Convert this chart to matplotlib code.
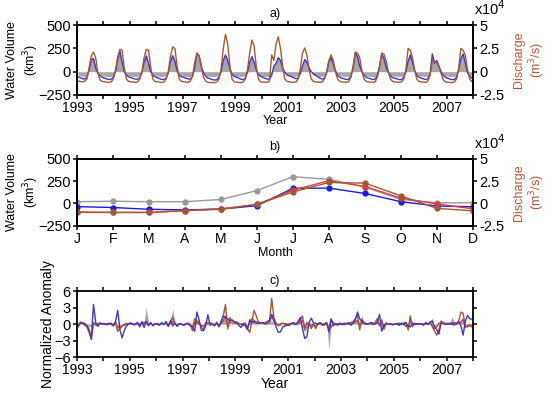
import numpy as np
import matplotlib
matplotlib.use("Agg")
import matplotlib.pyplot as plt

plt.rcParams['font.family'] = ['Liberation Sans', 'DejaVu Sans']

# ---- panel a: monthly series 1993-2007 (water volume km3, discharge /100 m3/s)
vol_blue_a = [
    -55, -65, -75, -80, -60, 20, 130, 140, 40, -20, -45, -60,
    -70, -78, -85, -80, -60, 0, 130, 220, 100, 0, -40, -55,
    -65, -72, -80, -82, -65, -10, 100, 165, 90, 0, -40, -55,
    -65, -75, -82, -85, -70, -10, 110, 170, 110, 10, -40, -55,
    -60, -70, -78, -80, -50, 40, 200, 170, 60, -10, -50, -70,
    -75, -85, -90, -85, -60, 0, 120, 180, 120, 30, -30, -50,
    -60, -70, -80, -85, -70, -10, 100, 160, 100, 20, -30, -50,
    -60, -72, -80, -80, -40, 60, 90, 150, 120, 40, -10, -35,
    -45, -55, -65, -75, -70, -20, 60, 130, 100, 40, 0, -25,
    -40, -55, -70, -80, -70, -10, 110, 150, 80, 10, -40, -60,
    -70, -78, -85, -80, -50, 40, 200, 160, 60, 0, -40, -60,
    -70, -78, -85, -80, -40, 60, 190, 140, 50, -10, -45, -65,
    -70, -78, -85, -85, -60, 0, 110, 180, 100, 10, -40, -60,
    -70, -78, -85, -75, -30, 190, 90, 120, 60, 0, -40, -60,
    -70, -80, -85, -85, -60, 20, 140, 190, 90, -10, -50, -70,
]
vol_grey_a = [
    -40, -45, -50, -50, -40, 40, 160, 150, 40, -20, -35, -45,
    -48, -50, -52, -50, -40, 10, 150, 230, 100, 0, -35, -45,
    -48, -50, -52, -50, -40, 0, 120, 200, 100, 0, -35, -45,
    -48, -50, -52, -50, -40, 0, 120, 190, 120, 10, -35, -45,
    -48, -50, -52, -50, -30, 60, 210, 170, 60, -10, -40, -50,
    -50, -52, -55, -50, -40, 10, 140, 190, 120, 30, -30, -45,
    -48, -50, -52, -50, -40, 0, 120, 170, 100, 20, -30, -45,
    -48, -50, -52, -50, -20, 70, 100, 160, 120, 40, -20, -40,
    -45, -48, -50, -50, -40, 0, 80, 140, 110, 40, -10, -35,
    -45, -48, -52, -50, -40, 0, 120, 170, 80, 10, -35, -45,
    -48, -50, -52, -50, -30, 60, 210, 170, 60, 0, -35, -45,
    -48, -50, -52, -50, -30, 70, 200, 150, 50, -10, -40, -48,
    -48, -50, -52, -50, -40, 10, 130, 200, 100, 10, -35, -45,
    -48, -50, -52, -50, -20, 200, 100, 130, 60, 0, -35, -45,
    -48, -50, -52, -50, -40, 30, 150, 200, 90, -10, -40, -50,
]
dis_brown_a = [
    -100, -105, -108, -105, -80, 40, 170, 210, 150, -20, -90, -105,
    -108, -112, -115, -110, -80, 20, 160, 240, 230, 40, -80, -105,
    -108, -112, -115, -110, -80, 0, 150, 240, 230, 50, -80, -105,
    -108, -112, -115, -110, -80, 0, 170, 265, 250, 60, -80, -105,
    -108, -112, -115, -100, -50, 100, 200, 170, 60, -60, -100, -115,
    -115, -118, -118, -110, -80, 30, 250, 400, 300, 60, -80, -110,
    -112, -115, -118, -110, -80, 20, 200, 340, 280, 50, -80, -110,
    -112, -115, -115, -100, 180, 120, 300, 375, 250, 50, -80, -105,
    -110, -112, -115, -110, -80, 30, 200, 255, 180, 20, -80, -105,
    -110, -112, -115, -110, -80, 0, 120, 180, 120, 0, -80, -105,
    -110, -112, -115, -105, -60, 60, 210, 200, 150, 10, -80, -105,
    -110, -112, -115, -110, -60, 40, 200, 190, 120, 0, -80, -105,
    -110, -112, -115, -110, -80, 20, 250, 230, 150, 10, -80, -105,
    -110, -112, -115, -100, -40, 120, 110, 100, 60, -20, -90, -110,
    -112, -115, -118, -110, -80, 40, 250, 230, 180, 20, -80, -105,
]

# ---- panel b: monthly climatology
months = ['J', 'F', 'M', 'A', 'M', 'J', 'J', 'A', 'S', 'O', 'N', 'D']
clim_grey = [20, 25, 20, 20, 45, 145, 300, 270, 185, 45, 8, 8]
clim_blue = [-35, -45, -65, -72, -62, -25, 170, 172, 112, 20, -28, -37]
clim_red = [-95, -100, -100, -80, -60, -10, 150, 255, 190, 60, -5, -60]
clim_brown = [-100, -100, -100, -80, -65, -10, 130, 235, 228, 85, -55, -82]

# ---- panel c: normalized anomalies
anom_blue = [
    -0.5, 0.2, 0.3, 0.1, -0.2, -1.0, -2.8, 3.6, 0.3, -0.4, 0.2, 0.1,
    0.1, -0.1, 0.0, 0.2, -0.3, 0.5, 2.5, -1.0, -2.5, -1.2, -0.3, 0.1,
    0.2, 0.0, -0.1, 0.3, -0.5, 0.4, -0.6, 0.5, -0.2, 0.3, -0.3, 0.1,
    0.0, -0.2, 0.3, -0.1, 0.5, -0.4, 0.6, -0.3, 0.2, -0.4, 0.1, 0.0,
    -0.2, 0.1, 0.0, -0.3, -0.5, -1.3, 2.2, 0.8, -1.1, -1.2, -0.3, 1.7,
    -0.2, 0.0, -0.3, 0.2, -0.4, 0.3, 1.5, 1.2, 1.0, 0.5, 0.8, 0.4,
    0.3, -0.2, -0.6, 0.2, -0.3, -1.0, 0.8, 0.3, 0.5, 0.4, 0.2, 0.3,
    0.3, 0.2, 0.5, 0.7, 1.8, 0.8, -0.5, -1.5, -1.4, -0.5, -0.3, -0.2,
    -0.2, 0.1, 0.3, 0.0, 0.5, 1.2, -0.8, -2.6, -2.3, 0.3, 1.1, 0.2,
    0.2, -0.1, 0.3, -0.2, 0.1, 0.3, -1.4, 1.0, -0.3, 0.1, -0.2, 0.2,
    -0.1, 0.2, 0.0, 0.3, -0.2, 0.2, 0.8, 2.2, 1.0, 0.5, 0.2, 0.0,
    0.1, 0.3, 0.2, 0.0, 0.3, 1.8, -1.3, -0.3, 0.2, 0.0, 0.0, -0.1,
    0.0, 0.1, -0.2, 0.2, -0.1, 0.3, -0.3, -0.5, 0.2, -0.1, 0.1, 0.0,
    0.1, -0.2, 0.3, 0.0, 0.4, 0.6, -0.4, -1.0, -1.8, 0.2, 0.1, 0.0,
    0.0, 0.2, -0.1, 0.3, 0.1, 0.5, -0.3, -2.0, 0.5, 1.6, 1.0, 0.9,
]
anom_brown = [
    -0.3, 0.4, 0.2, -0.2, -0.5, -1.5, -2.5, 0.3, -0.2, 0.1, 0.2, 0.0,
    0.1, 0.0, 0.2, 0.0, -0.3, 0.3, -1.3, -0.8, -0.3, -0.2, 0.0, 0.1,
    0.2, -0.1, 0.0, 0.3, -0.2, 0.4, 0.2, 0.5, -0.3, 0.2, -0.2, 0.0,
    0.1, -0.1, 0.2, 0.0, 0.3, -0.3, 0.6, 1.3, 0.2, -0.3, 0.1, 0.0,
    -0.2, 0.1, 0.2, -0.1, -0.6, 1.0, 0.5, 0.3, -0.5, -1.0, 0.3, 0.2,
    0.3, 0.1, -0.2, 0.4, -0.5, 0.6, 1.5, 3.6, -0.9, 1.2, 0.6, 0.5,
    0.4, 0.2, 0.0, -0.3, 0.2, -0.8, -1.5, 0.5, 2.5, 1.5, 0.3, 0.2,
    0.2, 0.0, 0.3, 0.5, 4.7, 1.2, 0.2, -0.3, 0.1, 0.2, 0.1, 0.0,
    0.0, 0.2, 0.1, -0.1, 0.3, 0.8, 1.5, -1.0, 0.3, 0.1, -0.8, 0.0,
    -0.8, 0.1, 0.3, 0.0, -0.2, 0.2, -1.0, 0.8, 0.3, 0.0, 0.1, 0.0,
    0.1, -0.1, 0.2, 0.0, 0.3, 0.5, 1.0, 1.7, -1.0, 0.8, 0.3, 0.1,
    0.0, 0.2, -0.1, 0.3, 1.0, -0.3, 0.8, -0.5, 0.2, 0.0, 0.1, -0.1,
    0.0, 0.1, 0.2, -0.1, 0.2, 0.3, -1.0, 1.5, -0.5, 0.2, 0.0, 0.1,
    0.1, -0.1, 0.2, 0.0, 0.3, -0.5, -1.2, -2.0, -1.0, 0.6, 0.3, 0.1,
    0.2, 0.0, 0.3, -0.2, 0.1, 0.5, 2.2, 2.0, -0.3, -0.5, -0.3, -0.5,
]
anom_red = [
    -0.2, 0.2, 0.1, 0.0, -0.3, -1.2, -2.6, 0.2, 0.0, 0.1, 0.1, 0.0,
    0.0, 0.1, 0.0, 0.1, -0.2, 0.2, -0.5, -0.8, -0.3, 0.0, 0.1, 0.0,
    0.1, 0.0, 0.0, 0.1, -0.1, 0.2, 0.1, 0.2, -0.1, 0.1, -0.1, 0.0,
    0.0, 0.0, 0.1, 0.0, 0.1, -0.1, 0.2, 0.5, 0.1, -0.1, 0.0, 0.0,
    -0.1, 0.0, 0.1, 0.0, -1.2, 0.3, 0.2, 0.1, -0.2, -0.4, 0.1, 0.1,
    0.1, 0.0, -0.1, 0.2, -0.2, 0.3, 0.6, 1.5, -0.3, 0.3, 0.2, 0.2,
    0.2, 0.1, 0.0, -0.1, 0.1, -0.6, 0.2, 1.0, 0.7, 0.1, 0.2, 0.1,
    0.1, 0.0, 0.1, 0.2, 1.5, 0.5, 0.1, -0.1, 0.0, 0.1, 0.0, 0.0,
    0.0, 0.1, 0.0, 0.0, 0.1, 0.3, 0.6, -0.4, 0.1, 0.0, -0.3, 0.0,
    -0.3, 0.0, 0.1, 0.0, -0.1, 0.1, -0.9, -0.6, 0.1, 0.0, 0.0, 0.0,
    0.0, 0.0, 0.1, 0.0, 0.1, 0.2, 0.4, 0.7, -0.4, 0.3, 0.1, 0.0,
    0.0, 0.1, 0.0, 0.1, 0.4, -0.1, 0.3, -0.9, 0.1, 0.0, 0.0, 0.0,
    0.0, 0.0, 0.1, 0.0, 0.1, -0.4, -0.5, 0.6, -0.2, 0.1, 0.0, 0.0,
    0.0, 0.0, 0.1, 0.0, 0.1, -0.2, -0.8, -0.5, 0.2, 0.2, 0.1, 0.0,
    0.1, 0.0, 0.1, -0.1, 0.0, 0.2, 0.4, 0.9, -0.6, -0.2, -0.1, -0.2,
]
anom_grey = [
    0.0, 0.2, 0.0, -0.1, -0.2, -0.4, -0.6, 0.3, 0.1, 0.0, 0.1, 0.0,
    0.0, 0.0, 0.1, 0.0, 0.3, 0.8, -0.4, -0.6, -0.2, 0.0, 0.1, 0.0,
    0.1, 0.0, 0.0, 0.1, 0.0, 0.2, 0.5, 3.0, 0.2, -0.1, 0.0, 0.0,
    0.0, 0.1, 0.0, 0.0, 0.1, 0.2, 0.5, 2.8, 0.3, 0.0, 0.0, 0.0,
    0.0, 0.0, 0.1, 0.0, -0.3, 0.4, 1.0, 0.3, -0.4, -0.2, 0.1, 0.2,
    0.1, 0.0, 0.0, 0.1, -0.2, 0.4, 0.8, 1.0, 0.3, -0.3, 0.2, 0.1,
    0.1, 0.0, 0.0, 0.0, 0.0, -0.4, 0.3, 0.8, 0.5, 0.1, 0.1, 0.0,
    0.0, 0.0, 0.1, 0.2, 0.6, 0.3, 0.0, -0.3, -0.2, 0.0, 0.0, 0.0,
    0.0, 0.0, 0.1, 0.0, 0.2, 0.5, -0.3, -1.5, -0.8, 0.1, 0.3, 0.0,
    0.0, 0.0, 0.1, 0.0, 0.0, 0.2, -4.6, -0.5, 0.2, 0.0, 0.0, 0.0,
    0.0, 0.0, 0.0, 0.1, 0.1, 0.3, 0.6, 0.8, 0.4, 1.6, 0.2, 0.0,
    0.0, 0.1, 0.0, 0.0, 0.3, 0.2, -0.2, -0.6, 0.0, 0.0, 0.0, 0.0,
    0.0, 0.0, 0.0, 0.1, 0.0, -0.3, -1.3, 0.5, 0.0, 0.0, 0.0, 0.0,
    0.0, 0.0, 0.1, 0.0, 0.3, 1.2, -0.5, -0.4, 0.1, 0.0, 0.0, 0.0,
    0.0, 0.1, 1.4, 0.2, 0.0, 0.2, 0.6, 0.8, -0.3, 0.1, 0.0, 0.0,
]

years = list(range(1993, 2009))
year_labels = [str(y) if y % 2 == 1 else '' for y in years]

BLUE = '#4436c4'
BROWN = '#a05a32'
RED = '#e03a3a'
GREY = '#aaa6a6'
XFS = 10      # x tick labels
YFS = 10.5    # y tick labels
LFS = 9       # axis labels
TFS = 9       # panel titles

t = 1993 + (np.arange(180) + 0.5) / 12.0

fig = plt.figure(figsize=(5.5, 3.99), dpi=100)
ax_a = fig.add_axes([0.14, 0.762, 0.72, 0.175])
ax_b = fig.add_axes([0.14, 0.434, 0.72, 0.168])
ax_c = fig.add_axes([0.14, 0.105, 0.72, 0.165])


def style(ax, right=False):
    for s in ax.spines.values():
        s.set_linewidth(1.3)
    ax.tick_params(direction='out', length=3, width=1.1,
                   top=True, right=right, pad=1.5)
    ax.tick_params(axis='x', labelsize=XFS)
    ax.tick_params(axis='y', labelsize=YFS)


def volume_axis(ax):
    ax.set_ylim(-250, 500)
    ax.set_yticks([-250, 0, 250, 500])
    ax.set_ylabel('Water Volume\n(km$^3$)', fontsize=LFS)
    ax.yaxis.set_label_coords(-0.092, 0.5)


def discharge_axis(ax):
    ax.set_ylim(-25000, 50000)
    ax.set_yticks([-25000, 0, 25000, 50000])
    ax.set_yticklabels(['-2.5', '0', '2.5', '5'])
    ax.set_ylabel('Discharge\n(m$^3$/s)', fontsize=LFS, color='#b5553a')
    ax.yaxis.set_label_coords(1.1, 0.5)
    ax.text(1.003, 1.1, 'x10$^4$', transform=ax.transAxes, fontsize=YFS,
            ha='left', va='bottom')
    style(ax, right=True)


# ---- a)
ax_a.fill_between(t, 0, vol_grey_a, color=GREY, lw=0)
ax_a.plot(t, vol_blue_a, color=BLUE, lw=1.0)
ax_a.set_xlim(1993, 2008)
ax_a.set_xticks(years)
ax_a.set_xticklabels(year_labels)
volume_axis(ax_a)
ax_a.set_xlabel('Year', fontsize=LFS, labelpad=0)
ax_a.set_title('a)', fontsize=TFS, pad=6)
style(ax_a)
ax_a2 = ax_a.twinx()
ax_a2.plot(t, np.array(dis_brown_a) * 100, color=BROWN, lw=1.0)
discharge_axis(ax_a2)

# ---- b)
mx = np.arange(1, 13)
ax_b.plot(mx, clim_grey, color='#999999', lw=1.0, marker='o', ms=3.5)
ax_b.plot(mx, clim_blue, color='#1a1ae0', lw=1.0, marker='o', ms=3.5)
ax_b.set_xlim(1, 12)
ax_b.set_xticks(mx)
ax_b.set_xticklabels(months)
volume_axis(ax_b)
ax_b.set_xlabel('Month', fontsize=LFS, labelpad=1)
ax_b.set_title('b)', fontsize=TFS, pad=6)
style(ax_b)
ax_b2 = ax_b.twinx()
ax_b2.plot(mx, np.array(clim_red) * 100, color=RED, lw=1.0, marker='o', ms=3.5)
ax_b2.plot(mx, np.array(clim_brown) * 100, color=BROWN, lw=1.0, marker='o', ms=3.5)
discharge_axis(ax_b2)

# ---- c)
ax_c.fill_between(t, 0, anom_grey, color=GREY, lw=0)
ax_c.plot(t, anom_red, color=RED, lw=1.0)
ax_c.plot(t, anom_brown, color=BROWN, lw=1.0)
ax_c.plot(t, anom_blue, color=BLUE, lw=1.0)
ax_c.set_xlim(1993, 2008)
ax_c.set_ylim(-6, 6)
ax_c.set_yticks([-6, -3, 0, 3, 6])
ax_c.set_xticks(years)
ax_c.set_xticklabels(year_labels)
ax_c.set_ylabel('Normalized Anomaly', fontsize=10)
ax_c.yaxis.set_label_coords(-0.055, 0.5)
ax_c.set_xlabel('Year', fontsize=10, labelpad=0)
ax_c.set_title('c)', fontsize=TFS, pad=5)
style(ax_c, right=True)
ax_c.tick_params(labelright=False)

fig.savefig('out.png', dpi=100)
